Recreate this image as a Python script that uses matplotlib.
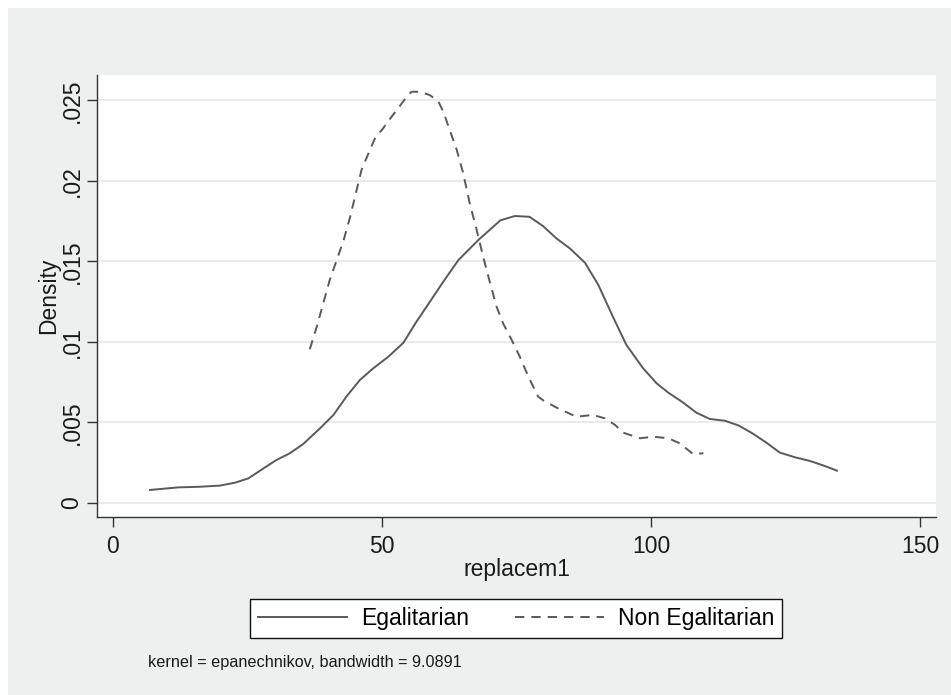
import matplotlib
matplotlib.use("Agg")
import matplotlib.pyplot as plt
from matplotlib.patches import Rectangle

# === Dati (stime) ===
egal_x = [6.9, 12.2, 16.2, 19.9, 22.7, 25.2, 28.0, 30.4, 32.9, 35.4, 38.5, 41.0,
          43.4, 45.9, 48.4, 51.2, 54.0, 56.4, 58.9, 61.4, 64.2, 68.0, 72.0, 74.7,
          77.4, 79.9, 82.4, 84.9, 87.7, 90.2, 92.9, 95.4, 98.5, 101.0, 103.2,
          105.9, 108.4, 110.9, 113.7, 116.2, 118.6, 121.4, 123.9, 126.7, 129.5,
          131.9, 134.5]
egal_y = [.00079, .00095, .00099, .00106, .00124, .00151, .00213, .00265, .00307,
          .00365, .00462, .00545, .00659, .00762, .00835, .00907, .00994, .01124,
          .01248, .01373, .01507, .01635, .01754, .01781, .01776, .01719, .01642,
          .0158, .01491, .01352, .01155, .0098, .00835, .00742, .00683, .00623,
          .00559, .0052, .00509, .0048, .00435, .00373, .00311, .00282, .00259,
          .00232, .00199]

noneg_x = [36.6, 37.9, 39.1, 40.3, 41.6, 42.8, 44.1, 45.3, 46.2, 47.5, 48.7, 50.2,
           51.8, 53.0, 54.6, 55.5, 57.1, 58.9, 60.5, 61.4, 62.6, 63.9, 65.1, 66.3,
           67.6, 68.8, 70.1, 71.3, 72.5, 74.1, 75.6, 77.2, 79.0, 80.2, 82.7, 86.1,
           89.2, 91.4, 93.3, 94.8, 97.9, 100.4, 103.2, 105.3, 107.8, 109.7]
noneg_y = [.00953, .01093, .01238, .01383, .01507, .01621, .01776, .01942, .02066,
           .0217, .02263, .02325, .02398, .0245, .02522, .02553, .02553, .02532,
           .02491, .02429, .02315, .02191, .02046, .0186, .01694, .01528, .01363,
           .01217, .01114, .01011, .00907, .00783, .00659, .0063, .00586, .00534,
           .00545, .00524, .00483, .00435, .004, .0041, .004, .00369, .00302,
           .00307]

x_ticks = [0, 50, 100, 150]
y_ticks = [0, .005, .01, .015, .02, .025]
y_ticklabels = ["0", ".005", ".01", ".015", ".02", ".025"]

LINE_COL = "#595959"
BG_COL = "#eef0ef"
FS = 16.5

plt.rcParams['font.family'] = ['Liberation Sans', 'DejaVu Sans']

fig = plt.figure(figsize=(9.51, 6.95), dpi=100, facecolor="white")
W, H = 951, 695
fig.patches.append(Rectangle((8 / W, 0), 1, 1 - 8 / H, transform=fig.transFigure,
                             facecolor=BG_COL, edgecolor="none", zorder=-10))

ax = fig.add_axes([97.3 / W, 1 - 517 / H, (936 - 97.3) / W, (517 - 75) / H])
ax.set_facecolor("white")

ax.plot(egal_x, egal_y, color=LINE_COL, lw=1.4, label="Egalitarian")
ax.plot(noneg_x, noneg_y, color=LINE_COL, lw=1.4, linestyle=(0, (4.8, 3.6)),
        label="Non Egalitarian")

ax.set_xlim(-2.86, 152.9)
ax.set_ylim(-0.00089, 0.02657)
ax.set_xticks(x_ticks)
ax.set_yticks(y_ticks)
ax.set_yticklabels(y_ticklabels, rotation=90, va="center")
ax.grid(axis="y", color="#eaeaea", lw=1.5)
ax.set_axisbelow(True)

for s in ["top", "right"]:
    ax.spines[s].set_visible(False)
for s in ["left", "bottom"]:
    ax.spines[s].set_color("#333333")
    ax.spines[s].set_linewidth(1.0)

ax.tick_params(axis="both", length=7, width=1.0, color="#333333",
               labelsize=FS, labelcolor="#1a1a1a")
ax.tick_params(axis="y", pad=3)
ax.tick_params(axis="x", pad=6)

ax.set_xlabel("replacem1", fontsize=FS, color="#1a1a1a")
ax.xaxis.set_label_coords(0.5, -0.092)
ax.set_ylabel("Density", fontsize=FS, color="#1a1a1a")
ax.yaxis.set_label_coords(-0.044, 0.5)

leg = fig.legend(loc="center", bbox_to_anchor=(516 / W, 1 - 618.5 / H), ncol=2,
                 fontsize=FS, frameon=True, fancybox=False, handlelength=3.9,
                 handletextpad=0.6, columnspacing=2.0, borderpad=0.35,
                 borderaxespad=0)
leg.get_frame().set_edgecolor("#111111")
leg.get_frame().set_linewidth(1.0)
leg.get_frame().set_facecolor("white")
leg.get_frame().set_alpha(1)

fig.text(148 / W, 1 - 663 / H, "kernel = epanechnikov, bandwidth = 9.0891",
         fontsize=11.7, color="#1a1a1a", ha="left", va="center")

fig.savefig("out.png", dpi=100, facecolor=fig.get_facecolor())
